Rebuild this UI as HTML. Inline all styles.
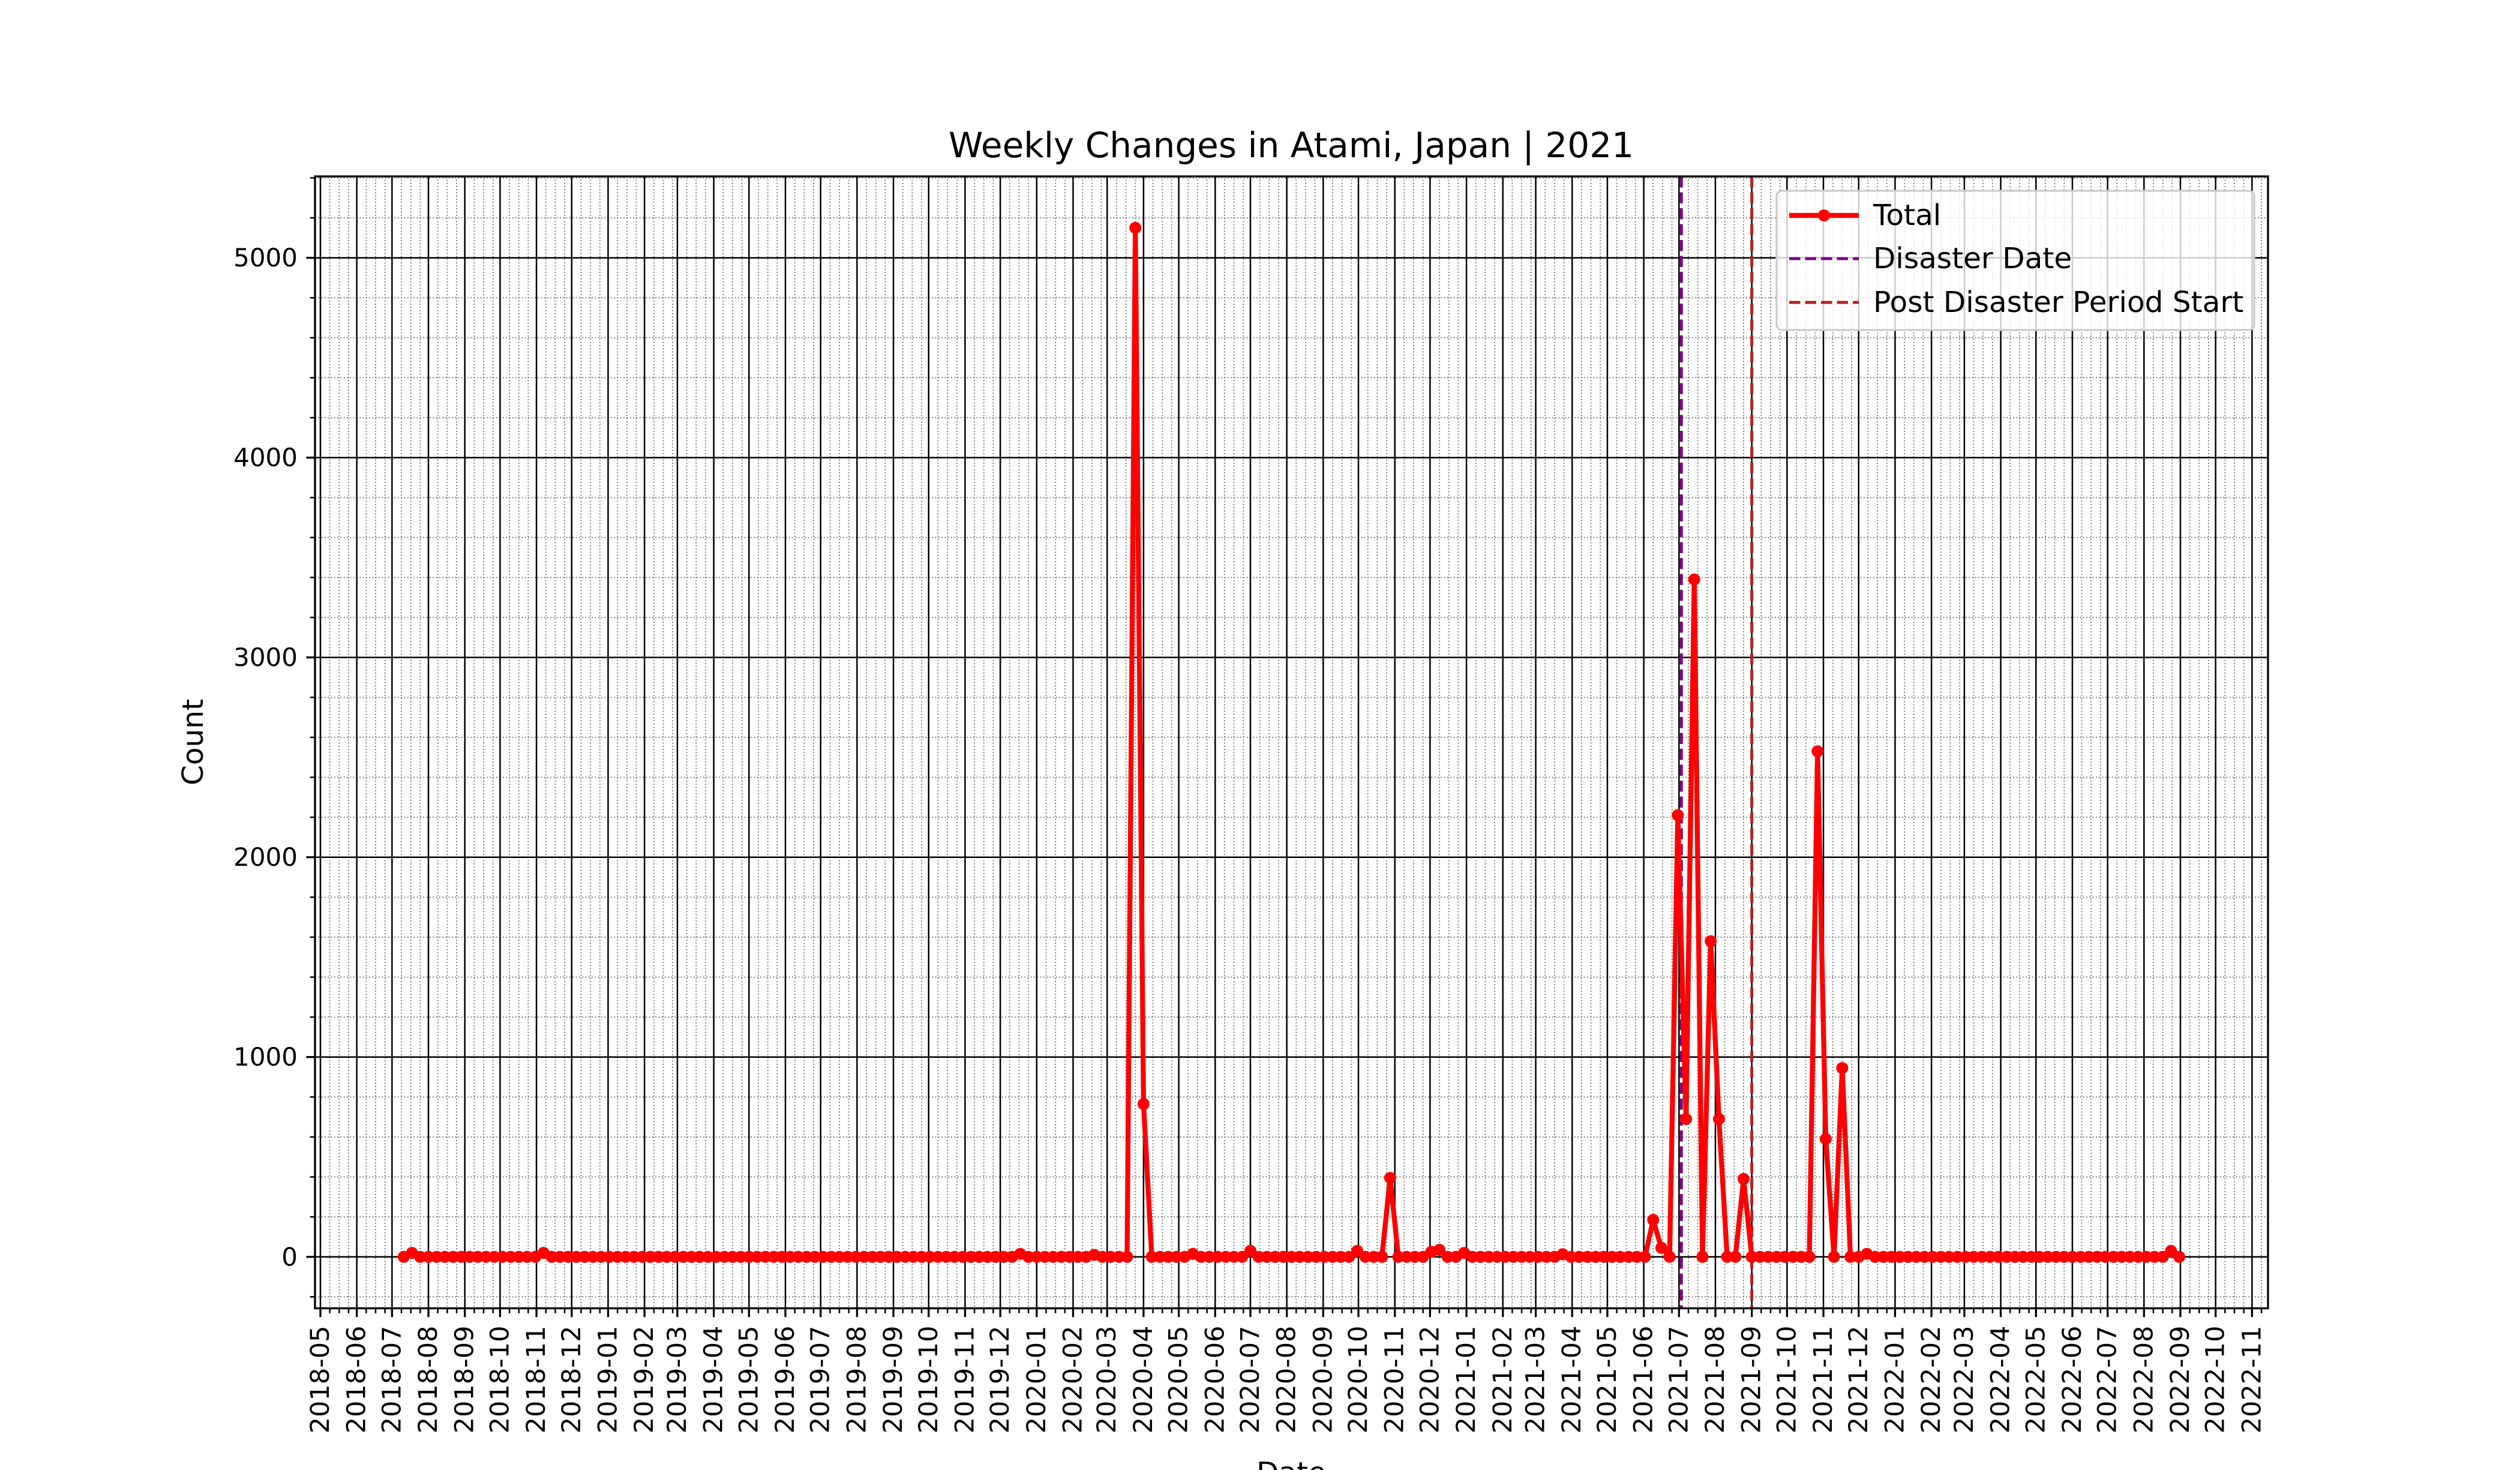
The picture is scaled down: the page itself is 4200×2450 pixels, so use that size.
<!DOCTYPE html>
<html><head><meta charset="utf-8"><style>
html,body{margin:0;padding:0;background:#fff;}
svg{display:block;font-family:"DejaVu Sans","Liberation Sans",sans-serif;}
</style></head><body>
<svg id="chart" width="4200" height="2450" viewBox="0 0 4200 2450" xmlns="http://www.w3.org/2000/svg">
<rect x="0" y="0" width="4200" height="2450" fill="#fff"/>
<g id="grid"></g>
<g id="vlines"></g>
<g id="series"></g>
<g id="axes"></g>
<text x="2152" y="262" font-size="58" text-anchor="middle">Weekly Changes in Atami, Japan | 2021</text>
<text x="0" y="0" font-size="48.5" text-anchor="middle" transform="translate(338,1237) rotate(-90)">Count</text>
<text x="2152" y="2436" font-size="48.5" text-anchor="middle" dominant-baseline="hanging">Date</text>
<g id="legend">
<rect x="2961" y="318" width="796" height="232" rx="9" fill="#fff" fill-opacity="0.8" stroke="#cccccc" stroke-width="3.3"/>
<g>
<line x1="2982" y1="359" x2="3098" y2="359" stroke="#ff0000" stroke-width="8.3"/>
<circle cx="3040" cy="359" r="10" fill="#ff0000"/>
<text x="3122" y="359" font-size="48.5" dominant-baseline="central">Total</text></g>
<g>
<line x1="2982" y1="431" x2="3098" y2="431" stroke="#800080" stroke-width="5" stroke-dasharray="18.5 8"/>
<text x="3122" y="431" font-size="48.5" dominant-baseline="central">Disaster Date</text></g>
<g>
<line x1="2982" y1="504" x2="3098" y2="504" stroke="#b22222" stroke-width="5" stroke-dasharray="18.5 8"/>
<text x="3122" y="504" font-size="48.5" dominant-baseline="central">Post Disaster Period Start</text></g>
</g>
</svg>
<script>
const startDate = "2018-07-11";
const weeklyTotals = [
0,20,0,0,0,0,0,0,0,0,0,0,0,0,0,0,0,20,0,0,
0,0,0,0,0,0,0,0,0,0,0,0,0,0,0,0,0,0,0,0,
0,0,0,0,0,0,0,0,0,0,0,0,0,0,0,0,0,0,0,0,
0,0,0,0,0,0,0,0,0,0,0,0,0,0,0,15,0,0,0,0,
0,0,0,0,10,0,0,0,0,5150,765,0,0,0,0,0,15,0,0,0,
0,0,0,30,0,0,0,0,0,0,0,0,0,0,0,0,30,0,0,0,
395,0,0,0,0,25,35,0,0,20,0,0,0,0,0,0,0,0,0,0,
0,13,0,0,0,0,0,0,0,0,0,0,185,45,0,2210,690,3390,0,1580,
690,0,0,390,0,0,0,0,0,0,0,0,2530,590,0,945,0,0,15,0,
0,0,0,0,0,0,0,0,0,0,0,0,0,0,0,0,0,0,0,0,
0,0,0,0,0,0,0,0,0,0,0,0,0,0,0,30,0
];
const eventDates = ["2021-07-03","2021-09-01"];
const eventNames = ["disaster-date-line","post-disaster-start-line"];
const eventColors = ["#800080","#b22222"];
const yTicks = [0,1000,2000,3000,4000,5000];

const NS="http://www.w3.org/2000/svg";
const L=525,R=3780,T=294,B=2180.5;
const DAY=86400000, ORIGIN=Date.UTC(2018,4,1);
function dayOf(s){const p=s.split("-").map(Number);return (Date.UTC(p[0],p[1]-1,p[2]||1)-ORIGIN)/DAY;}
const d0=dayOf(startDate);
const days=weeklyTotals.map((v,i)=>d0+7*i);
const dmin=days[0],dmax=days[days.length-1],dspan=dmax-dmin;
const xmin=dmin-0.05*dspan,xmax=dmax+0.05*dspan;
const vmin=Math.min(...weeklyTotals),vmax=Math.max(...weeklyTotals),vspan=vmax-vmin;
const ymin=vmin-0.05*vspan,ymax=vmax+0.05*vspan;
function X(d){return L+(d-xmin)/(xmax-xmin)*(R-L);}
function Y(v){return B-(v-ymin)/(ymax-ymin)*(B-T);}
function mk(tag,attrs,parent){const e=document.createElementNS(NS,tag);for(const k in attrs)e.setAttribute(k,attrs[k]);parent.appendChild(e);return e;}

const grid=document.getElementById("grid"),axes=document.getElementById("axes");
const months=[];
for(let y=2018;y<=2022;y++)for(let m=1;m<=12;m++){
  for(const dd of [1,9,17,25]){
    const d=(Date.UTC(y,m-1,dd)-ORIGIN)/DAY;
    if(d<xmin||d>xmax)continue;
    const x=X(d);
    const g=mk("line",{x1:x,y1:T,x2:x,y2:B,stroke:"#808080","stroke-width":2,"stroke-dasharray":"2 3.3"},grid);
    
    
    const t=mk("line",{x1:x,y1:B,x2:x,y2:B+8.3,stroke:"#000","stroke-width":2.5},axes);
    
    
    if(dd===1)months.push([d,y+"-"+String(m).padStart(2,"0")]);
  }
}
for(let v=-200;v<=5400;v+=200){
  if(v<ymin||v>ymax)continue;
  const y=Y(v);
  const g=mk("line",{x1:L,y1:y,x2:R,y2:y,stroke:"#808080","stroke-width":2,"stroke-dasharray":"2 3.3"},grid);
  
  
  const t=mk("line",{x1:L,y1:y,x2:L-8.3,y2:y,stroke:"#000","stroke-width":2.5},axes);
  
  
}
months.forEach(([d,lab])=>{
  const x=X(d);
  const g=mk("line",{x1:x,y1:T,x2:x,y2:B,stroke:"#000","stroke-width":2.5},grid);
  
  
  const t=mk("line",{x1:x,y1:B,x2:x,y2:B+14.6,stroke:"#000","stroke-width":3.3},axes);
  
  
  const tx=mk("text",{x:0,y:0,"font-size":43,"text-anchor":"end","dominant-baseline":"central",transform:`translate(${x},${B+29}) rotate(-90)`},axes);
  tx.textContent=lab;
  
  
});
yTicks.forEach(v=>{
  const y=Y(v);
  const g=mk("line",{x1:L,y1:y,x2:R,y2:y,stroke:"#000","stroke-width":2.5},grid);
  
  
  const t=mk("line",{x1:L,y1:y,x2:L-14.6,y2:y,stroke:"#000","stroke-width":3.3},axes);
  
  
  const tx=mk("text",{x:L-29,y:y,"font-size":42,"text-anchor":"end","dominant-baseline":"central"},axes);
  tx.textContent=String(v);
  
  
});
const frame=mk("rect",{x:L,y:T,width:R-L,height:B-T,fill:"none",stroke:"#000","stroke-width":3.3},axes);



const vl=document.getElementById("vlines");
eventDates.forEach((s,i)=>{
  const x=X(dayOf(s));
  const l=mk("line",{x1:x,y1:T,x2:x,y2:B,stroke:eventColors[i],"stroke-width":5,"stroke-dasharray":"18.5 8"},vl);
  
  
});

const ser=document.getElementById("series");
const pts=weeklyTotals.map((v,i)=>X(days[i]).toFixed(2)+","+Y(v).toFixed(2)).join(" ");
const pl=mk("polyline",{points:pts,fill:"none",stroke:"#ff0000","stroke-width":8.3,"stroke-linejoin":"round"},ser);


weeklyTotals.forEach((v,i)=>{
  const c=mk("circle",{cx:X(days[i]),cy:Y(v),r:10,fill:"#ff0000"},ser);
  
  
});
</script>
</body></html>
